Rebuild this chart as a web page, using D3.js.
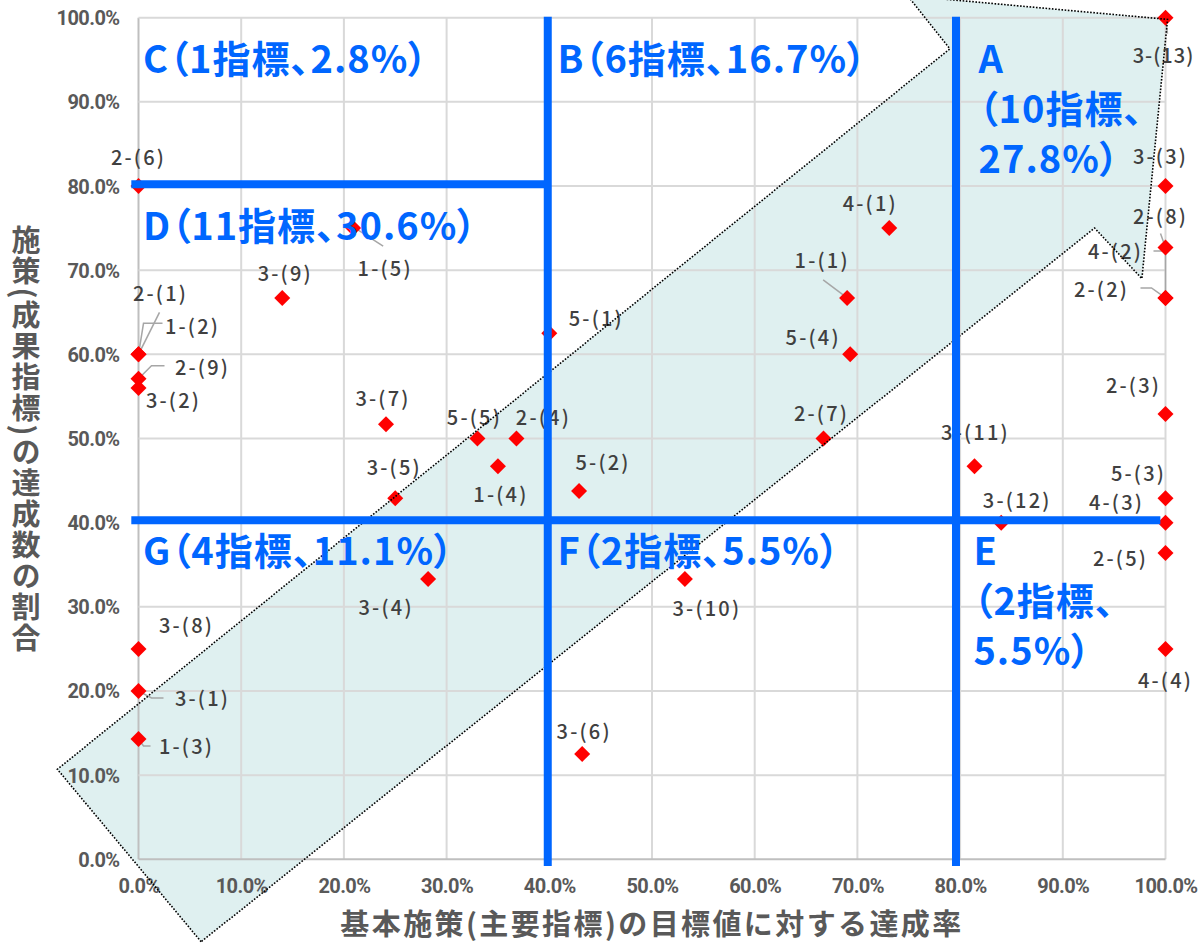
<!DOCTYPE html>
<html>
<head>
<meta charset="utf-8">
<script src="https://cdn.jsdelivr.net/npm/d3@7/dist/d3.min.js"></script>
<style>
  body { margin: 0; background: #fff; }
  svg { display: block; }
  .tick-label { font-family: Roboto, "Noto Sans CJK JP", sans-serif; font-weight: 700; font-size: 20px; fill: #595959; letter-spacing: -0.6px; }
  .pt-label { font-family: "Noto Sans CJK JP", sans-serif; font-weight: 500; font-size: 20px; fill: #404040; letter-spacing: 2.2px; }
  .axis-title { font-family: "Noto Sans CJK JP", sans-serif; font-weight: 700; font-size: 29px; fill: #595959; }
  .region { font-family: "Noto Sans CJK JP", sans-serif; font-weight: 700; font-size: 38px; fill: #0066ff; font-feature-settings: "palt"; letter-spacing: 1px; }
</style>
</head>
<body>
<svg width="1199" height="943"></svg>
<script>
// indicators (基本施策-(番号))
var codes = ["1-(1)","1-(2)","1-(3)","1-(4)","1-(5)",
             "2-(1)","2-(2)","2-(3)","2-(4)","2-(5)","2-(6)","2-(7)","2-(8)","2-(9)",
             "3-(1)","3-(2)","3-(3)","3-(4)","3-(5)","3-(6)","3-(7)","3-(8)","3-(9)","3-(10)","3-(11)","3-(12)","3-(13)",
             "4-(1)","4-(2)","4-(3)","4-(4)",
             "5-(1)","5-(2)","5-(3)","5-(4)","5-(5)"];
// x : 基本施策(主要指標)の目標値に対する達成率 (%)
var mainRate = [69.0, 0, 0, 35.0, 20.9,
                0, 100, 100, 36.8, 100, 0, 66.7, 100, 0,
                0, 0, 100, 28.2, 25.0, 43.2, 24.1, 0, 14.0, 53.2, 81.4, 84.0, 100,
                73.1, 100, 100, 100,
                40.0, 42.9, 100, 69.3, 33.0];
// y : 施策(成果指標)の達成数の割合 (%)
var subRate = [66.7, 60.0, 14.3, 46.7, 75.0,
               60.0, 66.7, 52.9, 50.0, 36.4, 80.0, 50.0, 72.7, 57.1,
               20.0, 56.0, 80.0, 33.3, 42.9, 12.5, 51.7, 25.0, 66.7, 33.3, 46.7, 40.0, 100,
               75.0, 66.7, 40.0, 25.0,
               62.5, 43.75, 42.9, 60.0, 50.0];

var tickValues = [0, 10, 20, 30, 40, 50, 60, 70, 80, 90, 100];

// groups A-G
var regionNames = ["A", "B", "C", "D", "E", "F", "G"];
var regionCounts = [10, 6, 1, 11, 2, 2, 4];
var regionShares = ["27.8%", "16.7%", "2.8%", "30.6%", "5.5%", "5.5%", "11.1%"];

var xTitle = "基本施策(主要指標)の目標値に対する達成率";
var yTitle = "施策(成果指標)の達成数の割合";

// ---- layout tables (pixels / data-space shapes) ----
// label offset from its point, px
var labelOffset = {
  "1-(1)": [-25, -38], "1-(2)": [54, -29], "1-(3)": [48, 7], "1-(4)": [3, 27], "1-(5)": [32, 39],
  "2-(1)": [22, -62], "2-(2)": [-64, -9], "2-(3)": [-32, -30], "2-(4)": [27, -22], "2-(5)": [-45, 5],
  "2-(6)": [0, -30], "2-(7)": [-2, -26], "2-(8)": [-5, -32], "2-(9)": [64, -12],
  "3-(1)": [64, 7], "3-(2)": [35, 11], "3-(3)": [-5, -31], "3-(4)": [-42, 27], "3-(5)": [-1, -32],
  "3-(6)": [2, -24], "3-(7)": [-3, -27], "3-(8)": [48, -24], "3-(9)": [3, -25], "3-(10)": [22, 28],
  "3-(11)": [1, -35], "3-(12)": [16, -23], "3-(13)": [-2, 37],
  "4-(1)": [-19, -26], "4-(2)": [-50, -47], "4-(3)": [-49, -21], "4-(4)": [0, 31],
  "5-(1)": [47, -16], "5-(2)": [24, -30], "5-(3)": [-27, -26], "5-(4)": [-37, -18], "5-(5)": [-3, -22]
};
// leader lines, px relative to the point
var leaders = {
  "1-(1)": [[-24, -18], [0, 0]],
  "1-(2)": [[24, -31], [5, -31], [0, 0]],
  "1-(3)": [[12, 7], [5, 7], [0, 0]],
  "1-(5)": [[30, 18], [2, 0]],
  "2-(1)": [[21, -42], [0, 0]],
  "2-(2)": [[-25, -10], [-14, -10], [0, 0]],
  "2-(8)": [[-5, -14], [0, 0]],
  "2-(9)": [[26, -13], [13, -13], [0, 0]],
  "3-(1)": [[25, 7], [13, 7], [0, 0]],
  "3-(13)": [[2, 16], [0, 3]],
  "4-(2)": [[-12, -47], [0, -47], [0, 0]]
};
// arrow outline in data units (x %, y %)
var arrowX = [6.1, -7.9, 79.0, 74.9, 100.2, 97.7, 93.1];
var arrowY = [-9.8, 10.7, 96.3, 102.6, 99.8, 69.0, 75.0];

// dividers in data units
var dividers = [
  [[39.85, -0.8], [39.85, 100.1]],
  [[79.6, -0.8], [79.6, 100.1]],
  [[-0.7, 80.2], [39.85, 80.2]],
  [[-0.7, 40.3], [99.5, 40.3]]
];
// region label anchors in data units
var regionPos = {
  "A": [81.8, 95.5], "B": [40.8, 95.5], "C": [0.45, 95.5], "D": [0.45, 75.6],
  "E": [81.3, 37.0], "F": [40.8, 37.0], "G": [0.45, 37.0]
};

var svg = d3.select("svg");

var x = d3.scaleLinear().domain([0, 100]).range([138.5, 1165.5]);
var y = d3.scaleLinear().domain([0, 100]).range([859.3, 17.7]);

// arrow fill (under the grid)
var arrowPts = arrowX.map(function (d, i) { return [x(d), y(arrowY[i])]; });
svg.append("path")
  .attr("d", d3.line()(arrowPts) + "Z")
  .attr("fill", "#dff0f0");

// grid
var grid = svg.append("g");
grid.selectAll("line.gx")
  .data(tickValues)
  .enter().append("line")
  .attr("x1", function (d) { return x(d); })
  .attr("x2", function (d) { return x(d); })
  .attr("y1", y(0)).attr("y2", y(100))
  .attr("stroke", function (d) { return d === 0 ? "#bfbfbf" : "#d9d9d9"; })
  .attr("stroke-width", 2);
grid.selectAll("line.gy")
  .data(tickValues)
  .enter().append("line")
  .attr("y1", function (d) { return y(d); })
  .attr("y2", function (d) { return y(d); })
  .attr("x1", x(0)).attr("x2", x(100))
  .attr("stroke", function (d) { return d === 0 ? "#bfbfbf" : "#d9d9d9"; })
  .attr("stroke-width", 2);

// axes (labels only)
var fmt = function (d) { return d.toFixed(1) + "%"; };
var gX = svg.append("g")
  .attr("transform", "translate(0," + y(0) + ")")
  .call(d3.axisBottom(x).tickValues(tickValues).tickSize(0).tickFormat(fmt));
gX.select(".domain").remove();
gX.selectAll("text").attr("class", "tick-label").attr("y", 27).attr("dy", "0.35em");

var gY = svg.append("g")
  .attr("transform", "translate(" + x(0) + ",0)")
  .call(d3.axisLeft(y).tickValues(tickValues).tickSize(0).tickFormat(fmt));
gY.select(".domain").remove();
gY.selectAll("text").attr("class", "tick-label").attr("x", -19).attr("dy", "0.35em");

// axis titles
svg.append("text")
  .attr("class", "axis-title")
  .attr("x", (x(0) + x(100)) / 2)
  .attr("y", 922)
  .attr("text-anchor", "middle")
  .attr("dominant-baseline", "central")
  .style("letter-spacing", "2.4px")
  .text(xTitle);

svg.append("text")
  .attr("class", "axis-title")
  .attr("x", 26)
  .attr("y", 440)
  .attr("text-anchor", "middle")
  .style("writing-mode", "vertical-rl")
  .style("letter-spacing", "2px")
  .text(yTitle);

// points
var pts = codes.map(function (c, i) {
  return { code: c, px: x(mainRate[i]), py: y(subRate[i]) };
});

var leaderLine = d3.line();
svg.append("g").selectAll("path")
  .data(pts.filter(function (d) { return leaders[d.code]; }))
  .enter().append("path")
  .attr("d", function (d) {
    return leaderLine(leaders[d.code].map(function (p) { return [d.px + p[0], d.py + p[1]]; }));
  })
  .attr("fill", "none")
  .attr("stroke", "#a6a6a6")
  .attr("stroke-width", 1.5);

svg.append("g").selectAll("path")
  .data(pts)
  .enter().append("path")
  .attr("d", d3.symbol().type(d3.symbolSquare).size(128))
  .attr("transform", function (d) { return "translate(" + d.px + "," + d.py + ") rotate(45)"; })
  .attr("fill", "#ff0000");

svg.append("g").selectAll("text")
  .data(pts)
  .enter().append("text")
  .attr("class", "pt-label")
  .attr("x", function (d) { return d.px + labelOffset[d.code][0]; })
  .attr("y", function (d) { return d.py + labelOffset[d.code][1]; })
  .attr("text-anchor", "middle")
  .attr("dominant-baseline", "central")
  .style("letter-spacing", function (d) { return d.code === "3-(13)" ? "1px" : null; })
  .text(function (d) { return d.code; });

// arrow outline
svg.append("path")
  .attr("d", d3.line()(arrowPts) + "Z")
  .attr("fill", "none")
  .attr("stroke", "#000")
  .attr("stroke-width", 1.6)
  .attr("stroke-dasharray", "1.6,1.6");

// divider lines
svg.append("g").selectAll("line")
  .data(dividers)
  .enter().append("line")
  .attr("x1", function (d) { return x(d[0][0]); })
  .attr("y1", function (d) { return y(d[0][1]); })
  .attr("x2", function (d) { return x(d[1][0]); })
  .attr("y2", function (d) { return y(d[1][1]); })
  .attr("stroke", "#0066ff")
  .attr("stroke-width", 8);

// region labels
regionNames.forEach(function (name, i) {
  var pos = regionPos[name];
  var body = "（" + regionCounts[i] + "指標、";
  var lines = (name === "A" || name === "E")
    ? [name, body, regionShares[i] + "）"]
    : [name + body + regionShares[i] + "）"];
  var t = svg.append("text")
    .attr("class", "region")
    .attr("x", x(pos[0]))
    .attr("y", y(pos[1]))
    .attr("dominant-baseline", "central");
  lines.forEach(function (s, k) {
    t.append("tspan")
      .attr("x", x(pos[0]))
      .attr("dy", k === 0 ? 0 : 50)
      .text(s);
  });
});
</script>
</body>
</html>
